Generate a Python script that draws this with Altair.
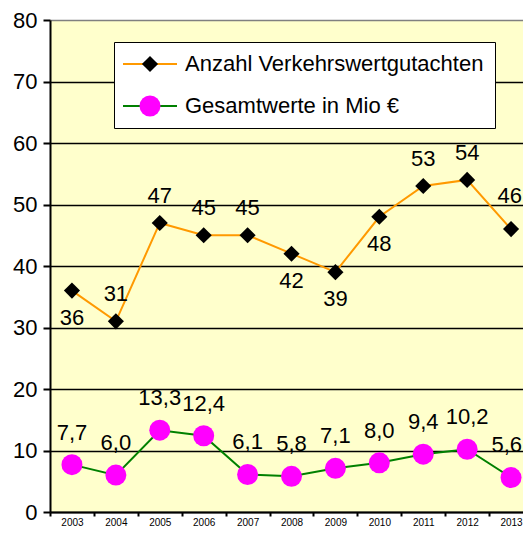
import altair as alt
import pandas as pd

years = ["2003", "2004", "2005", "2006", "2007", "2008", "2009", "2010", "2011", "2012", "2013"]
anzahl = [36, 31, 47, 45, 45, 42, 39, 48, 53, 54, 46]
gesamt = [7.7, 6.0, 13.3, 12.4, 6.1, 5.8, 7.1, 8.0, 9.4, 10.2, 5.6]
anzahl_pos = ["below", "above", "above", "above", "above", "below", "below", "below", "above", "above", "above"]
series_names = ["Anzahl Verkehrswertgutachten", "Gesamtwerte in Mio €"]

FONT = "Liberation Sans, Arial"

rows = []
for y, v, p in zip(years, anzahl, anzahl_pos):
    rows.append({"year": y, "series": series_names[0], "series2": series_names[0],
                 "value": v, "label": str(v), "pos": p})
for y, v in zip(years, gesamt):
    rows.append({"year": y, "series": series_names[1], "series2": series_names[1],
                 "value": v, "label": f"{v:.1f}".replace(".", ","), "pos": "above"})
df = pd.DataFrame(rows)

base = alt.Chart(df).encode(
    x=alt.X("year:N", sort=years,
            scale=alt.Scale(type="band", paddingInner=0, paddingOuter=0),
            axis=alt.Axis(title=None, labelAngle=0, tickBand="extent", grid=False,
                          labelFontSize=10, tickSize=4, labelPadding=1)),
    y=alt.Y("value:Q", scale=alt.Scale(domain=[0, 80], nice=False),
            axis=alt.Axis(title=None, values=list(range(0, 81, 10)), grid=True,
                          gridColor=alt.condition("datum.value == 80", alt.value("#808080"), alt.value("black")),
                          gridWidth=1.6, labelFontSize=22, tickSize=7, labelPadding=6)),
)

common_leg = dict(title=None, orient="none", legendX=64, legendY=22, padding=11,
                  symbolOffset=14, labelOffset=24, rowPadding=20, labelFont=FONT,
                  labelFontSize=22, labelColor="black", labelLimit=500, direction="vertical")

leg_line = alt.Legend(fillColor="white", strokeColor="black", symbolType="M-2.7,0H2.7",
                      symbolSize=400, symbolStrokeWidth=2, **common_leg)
leg_pts = alt.Legend(labelOpacity=0, symbolStrokeWidth=0, **common_leg)

line = base.mark_line(strokeWidth=2).encode(
    color=alt.Color("series:N", scale=alt.Scale(domain=series_names, range=["#FF9900", "#008000"]),
                    legend=leg_line)
)

points = base.mark_point(filled=True, opacity=1, strokeWidth=0).encode(
    fill=alt.Fill("series2:N", scale=alt.Scale(range=["black", "#FF00FF"]), legend=leg_pts),
    shape=alt.Shape("series2:N", scale=alt.Scale(range=["diamond", "circle"]), legend=leg_pts),
    size=alt.Size("series2:N", scale=alt.Scale(range=[260, 440]), legend=leg_pts),
)

last_year = years[-1]
txt_kw = dict(font=FONT, fontSize=22, color="black")
text_above = base.mark_text(dy=-27, **txt_kw).encode(text="label:N").transform_filter(
    (alt.datum.series == series_names[0]) & (alt.datum.pos == "above") & (alt.datum.year != last_year))
text_below = base.mark_text(dy=27, **txt_kw).encode(text="label:N").transform_filter(
    (alt.datum.series == series_names[0]) & (alt.datum.pos == "below") & (alt.datum.year != last_year))
text_g = base.mark_text(dy=-32, **txt_kw).encode(text="label:N").transform_filter(
    (alt.datum.series == series_names[1]) & (alt.datum.year != last_year))
text_last_a = base.mark_text(dy=-33, dx=11, align="right", **txt_kw).encode(text="label:N").transform_filter(
    (alt.datum.series == series_names[0]) & (alt.datum.year == last_year))
text_last_g = base.mark_text(dy=-33, dx=11, align="right", **txt_kw).encode(text="label:N").transform_filter(
    (alt.datum.series == series_names[1]) & (alt.datum.year == last_year))

chart = alt.layer(line, points, text_above, text_below, text_g, text_last_a, text_last_g).properties(
    width=483, height=492,
    autosize=alt.AutoSizeParams(type="none"),
    padding={"left": 42, "top": 12, "right": -10, "bottom": 14},
    background="white",
).configure_view(
    fill="#FFFFCC", stroke=None
).configure_axis(
    domainColor="black", domainWidth=2, tickColor="black", tickWidth=2,
    labelColor="black", labelFont=FONT
)

chart.save("out.html", embed_options={"renderer": "svg", "actions": False})
